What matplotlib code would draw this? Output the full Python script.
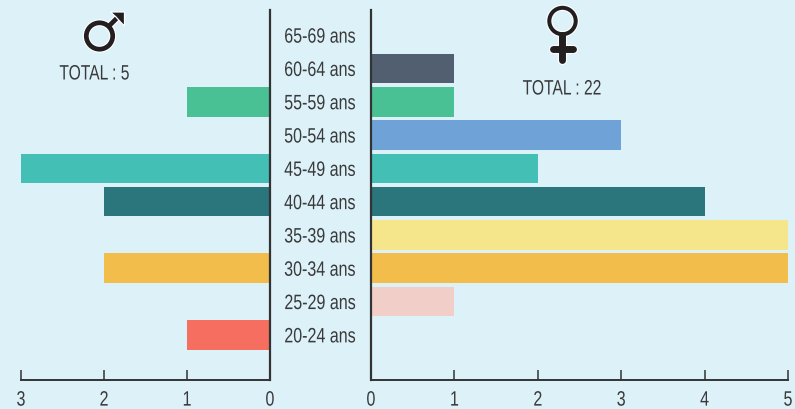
import matplotlib
matplotlib.use('Agg')
import matplotlib.pyplot as plt
from matplotlib.patches import Circle, Polygon
from matplotlib.patheffects import AbstractPathEffect
from matplotlib.transforms import Affine2D

plt.rcParams['font.family'] = ['Liberation Sans', 'DejaVu Sans']

# tranches d'age, du bas vers le haut
ages = ['20-24 ans', '25-29 ans', '30-34 ans', '35-39 ans', '40-44 ans',
        '45-49 ans', '50-54 ans', '55-59 ans', '60-64 ans', '65-69 ans']
hommes = [1, 0, 2, 0, 2, 3, 0, 1, 0, 0]
femmes = [0, 1, 5, 5, 4, 2, 3, 1, 1, 0]
couleurs = ['#F56E5F', '#F2CEC8', '#F3BD4C', '#F5E68C', '#2A767C',
            '#43BFB5', '#6FA3D8', '#4AC194', '#515F70', '#515F70']
ticks_h = [3, 2, 1, 0]
ticks_f = [0, 1, 2, 3, 4, 5]

W, H = 795, 409
FOND = '#DDF1F9'
NOIR = '#333333'
SYMB = '#231F20'
TEXTE = '#3A3A3A'


class Etroit(AbstractPathEffect):
    # pas de police condensee installee : on resserre le texte a l'horizontale
    def __init__(self, fx=0.77):
        super().__init__()
        self.fx = fx

    def draw_path(self, renderer, gc, tpath, affine, rgbFace=None):
        ext = tpath.get_extents()
        cx = (ext.x0 + ext.x1) / 2
        t = Affine2D().translate(-cx, 0).scale(self.fx, 1).translate(cx, 0)
        renderer.draw_path(gc, tpath, t + affine, rgbFace)


fig = plt.figure(figsize=(W / 100, H / 100), dpi=100, facecolor=FOND)


def axes_px(x0, x1, y0, y1):
    return fig.add_axes([x0 / W, 1 - y1 / H, (x1 - x0) / W, (y1 - y0) / H], facecolor='none')


ax_h = axes_px(21, 270, 10.5, 379.5)
ax_f = axes_px(371, 788, 10.5, 379.5)
y = list(range(len(ages)))

ax_h.barh(y, hommes, height=0.89, color=couleurs)
ax_f.barh(y, femmes, height=0.89, color=couleurs)
ax_h.set_xlim(3, 0)
ax_f.set_xlim(0, 5)
ax_h.set_xticks(ticks_h)
ax_f.set_xticks(ticks_f)

for ax in (ax_h, ax_f):
    ax.set_ylim(-1.34, 9.74)
    ax.set_yticks([])
    ax.spines['top'].set_visible(False)
    ax.spines['bottom'].set_color(NOIR)
    ax.spines['bottom'].set_linewidth(1.4)
    ax.tick_params(axis='x', direction='in', length=7.5, width=1.1, color=NOIR,
                   labelsize=15, labelcolor=TEXTE, pad=8)
    for lab in ax.get_xticklabels():
        lab.set_path_effects([Etroit()])

ax_h.spines['left'].set_visible(False)
ax_h.spines['right'].set_color(NOIR)
ax_h.spines['right'].set_linewidth(1.6)
ax_f.spines['right'].set_visible(False)
ax_f.spines['left'].set_color(NOIR)
ax_f.spines['left'].set_linewidth(1.6)

# libelles entre les deux axes
for i, age in enumerate(ages):
    ax_h.annotate(age, xy=(0, i), xycoords='data', xytext=(50, -2),
                  textcoords='offset pixels', ha='center', va='center',
                  fontsize=15, color=TEXTE, path_effects=[Etroit()])

# symboles et totaux, en pixels de l'image
over = fig.add_axes([0, 0, 1, 1], facecolor='none')
over.set_xlim(0, W)
over.set_ylim(H, 0)
over.axis('off')


def trait(xs, ys, lw, cap='butt', z=3):
    over.plot(xs, ys, color='white', lw=lw + 1.6, solid_capstyle=cap, zorder=z)
    over.plot(xs, ys, color=SYMB, lw=lw, solid_capstyle=cap, zorder=z + 1)


def anneau(cx, cy, r, lw):
    over.add_patch(Circle((cx, cy), r, fill=False, ec='white', lw=lw + 1.6, zorder=3))
    over.add_patch(Circle((cx, cy), r, fill=False, ec=SYMB, lw=lw, zorder=4))


# masculin
anneau(99.5, 36, 13.2, 3.4)
trait([109, 118], [26, 17], 3.4)
fleche = [(110.5, 12), (124.5, 12), (124.5, 26), (120.5, 22), (116, 17)]
over.add_patch(Polygon(fleche, closed=True, fc=SYMB, ec='white', lw=0.9, zorder=5))

# feminin
trait([562, 562], [35, 60], 5, cap='round')
trait([552.5, 572.5], [49, 49], 5, cap='round')
anneau(562.5, 21, 13.2, 2.9)

over.text(94.5, 74, 'TOTAL : 5', ha='center', va='center', fontsize=15, color=TEXTE,
          path_effects=[Etroit(0.75)])
over.text(562, 89, 'TOTAL : 22', ha='center', va='center', fontsize=15, color=TEXTE,
          path_effects=[Etroit(0.75)])

fig.savefig('out.png', dpi=100, facecolor=FOND)
